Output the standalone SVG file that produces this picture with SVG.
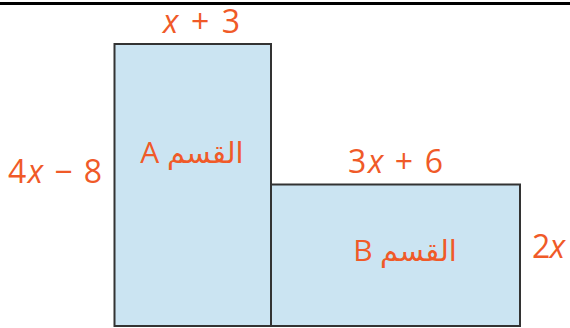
<svg xmlns="http://www.w3.org/2000/svg" width="570" height="328" viewBox="0 0 570 328">
<style>
.sec{fill:#cbe4f2;stroke:#333;stroke-width:2}
.lbl{fill:#f05a28;font-family:"Open Sans","Noto Sans",sans-serif;font-size:32px}
.ar{fill:#f05a28;font-family:"Noto Sans","Open Sans","DejaVu Sans",sans-serif;font-size:29px}
.it{font-style:italic}
</style>
<rect x="0" y="0" width="570" height="328" fill="#fff"/>
<line x1="0" y1="3.5" x2="570" y2="3.5" stroke="#000" stroke-width="3"/>
<g id="sectionA">
<rect class="sec" x="114.5" y="44" width="156.5" height="282"/>
<text class="ar" x="192" y="163" text-anchor="middle"><tspan font-family="Open Sans, sans-serif" font-size="30">A</tspan> القسم</text>
</g>
<g id="sectionB">
<rect class="sec" x="271" y="184.5" width="249" height="141.5"/>
<text class="ar" x="405" y="261" text-anchor="middle"><tspan font-family="Open Sans, sans-serif" font-size="30">B</tspan> القسم</text>
</g>
<g id="labels">
<text class="lbl" x="163" y="33" textLength="77" lengthAdjust="spacing"><tspan class="it">x</tspan> + 3</text>
<text class="lbl" x="8" y="183" textLength="94" lengthAdjust="spacing">4<tspan class="it">x</tspan> − 8</text>
<text class="lbl" x="348" y="173" textLength="95" lengthAdjust="spacing">3<tspan class="it">x</tspan> + 6</text>
<text class="lbl" x="532" y="258" textLength="33" lengthAdjust="spacing">2<tspan class="it">x</tspan></text>
</g>
<g id="connectors"></g>
</svg>
